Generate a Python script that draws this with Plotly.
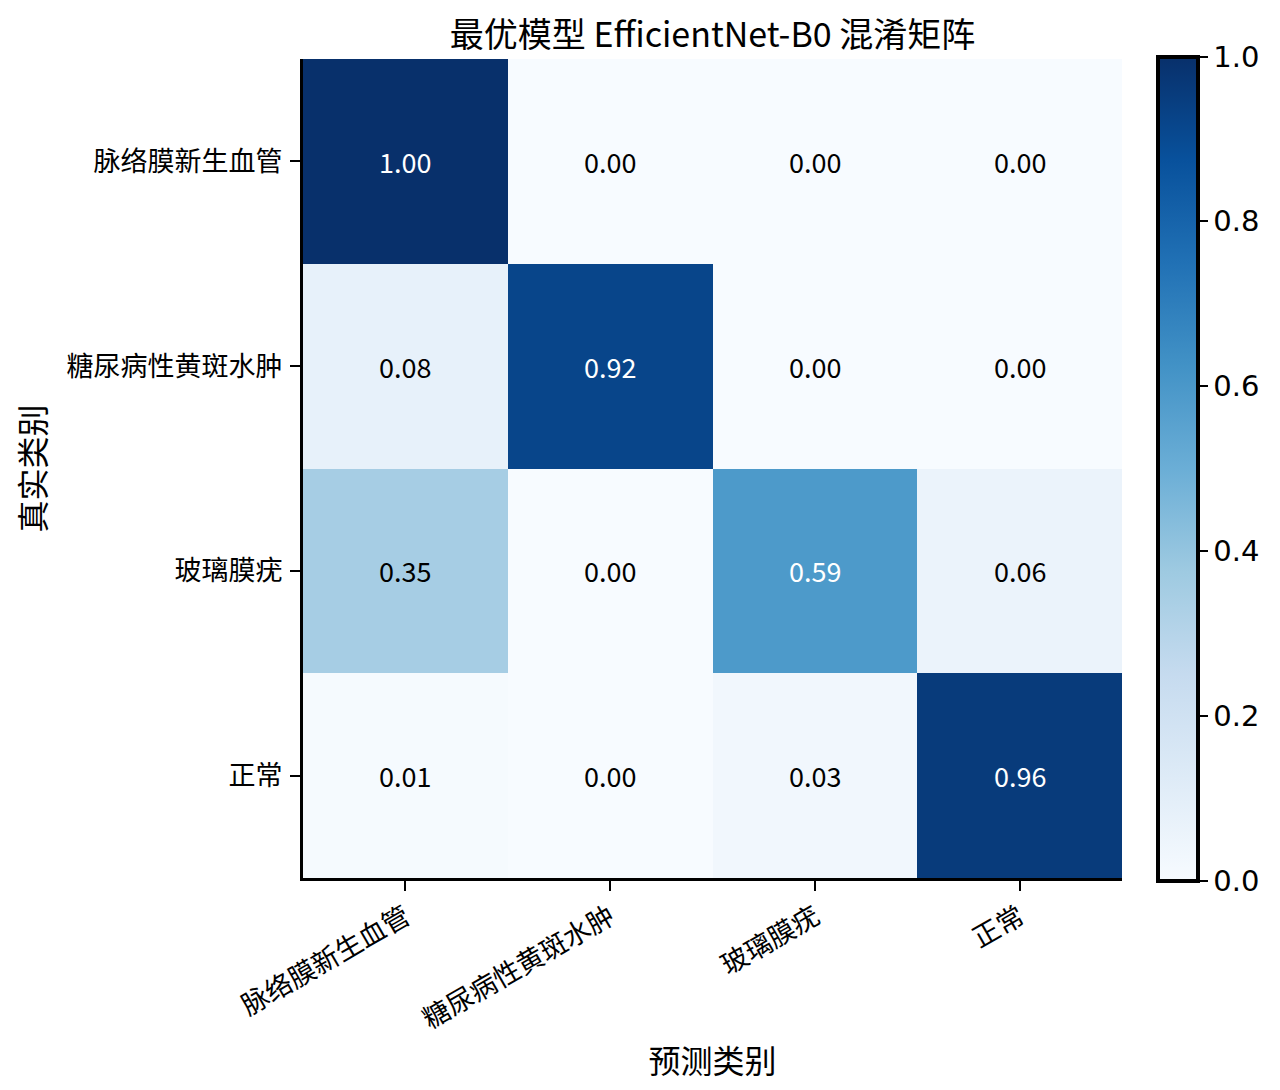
import plotly.graph_objects as go

# 类别与归一化混淆矩阵
classes = ["脉络膜新生血管", "糖尿病性黄斑水肿", "玻璃膜疣", "正常"]
row_cnv = [1.00, 0.00, 0.00, 0.00]
row_dme = [0.08, 0.92, 0.00, 0.00]
row_drusen = [0.35, 0.00, 0.59, 0.06]
row_normal = [0.01, 0.00, 0.03, 0.96]
cm = [row_cnv, row_dme, row_drusen, row_normal]
cbar_ticks = [0.0, 0.2, 0.4, 0.6, 0.8, 1.0]

cjk = "Noto Sans CJK SC"

# 页面默认有 8px 边距，整体尺寸减去 16
W, H = 1264, 1074
L, R, T, B = 295, 150, 51, 204

fig = go.Figure(
    go.Heatmap(
        z=cm,
        x=classes,
        y=classes,
        colorscale="Blues",
        zmin=0,
        zmax=1,
        showscale=True,
        colorbar=dict(
            x=1.044,
            xanchor="left",
            xpad=0,
            y=0.5,
            yanchor="middle",
            ypad=0,
            len=824,
            lenmode="pixels",
            thickness=40,
            outlinewidth=4,
            outlinecolor="black",
            tickvals=cbar_ticks,
            ticktext=["%.1f" % t for t in cbar_ticks],
            ticks="outside",
            ticklen=8,
            tickwidth=1.5,
            tickcolor="black",
            tickfont=dict(family="DejaVu Sans", size=29, color="black"),
        ),
    )
)

# 单元格数值
thresh = max(max(r) for r in cm) / 2
for i, row in enumerate(cm):
    for j, v in enumerate(row):
        fig.add_annotation(
            x=classes[j],
            y=classes[i],
            text="%.2f" % v,
            showarrow=False,
            font=dict(family=cjk, size=27, color="white" if v > thresh else "black"),
        )

fig.update_layout(
    width=W,
    height=H,
    paper_bgcolor="white",
    plot_bgcolor="white",
    margin=dict(l=L, r=R, t=T, b=B, autoexpand=False),
    title=dict(
        text="最优模型 EfficientNet-B0 混淆矩阵",
        x=(L + W - R) / 2 / W,
        xanchor="center",
        y=1 - 27 / H,
        yanchor="middle",
        font=dict(family=cjk, size=34, color="black"),
    ),
    font=dict(family=cjk, color="black"),
)

fig.update_xaxes(
    type="category",
    tickangle=-30,
    tickfont=dict(family=cjk, size=27, color="black"),
    ticks="outside",
    ticklen=10,
    tickwidth=2,
    tickcolor="black",
    showline=True,
    linewidth=3,
    linecolor="black",
    showgrid=False,
    zeroline=False,
    automargin=False,
    title=dict(text="预测类别", font=dict(family=cjk, size=32, color="black"), standoff=20),
)
fig.update_yaxes(
    type="category",
    autorange="reversed",
    tickfont=dict(family=cjk, size=27, color="black"),
    ticks="outside",
    ticklen=10,
    tickwidth=2,
    tickcolor="black",
    ticklabelstandoff=2,
    showline=True,
    linewidth=3,
    linecolor="black",
    showgrid=False,
    zeroline=False,
    automargin=False,
    title=dict(text="真实类别", font=dict(family=cjk, size=32, color="black"), standoff=26),
)

fig.write_html("out.html")
